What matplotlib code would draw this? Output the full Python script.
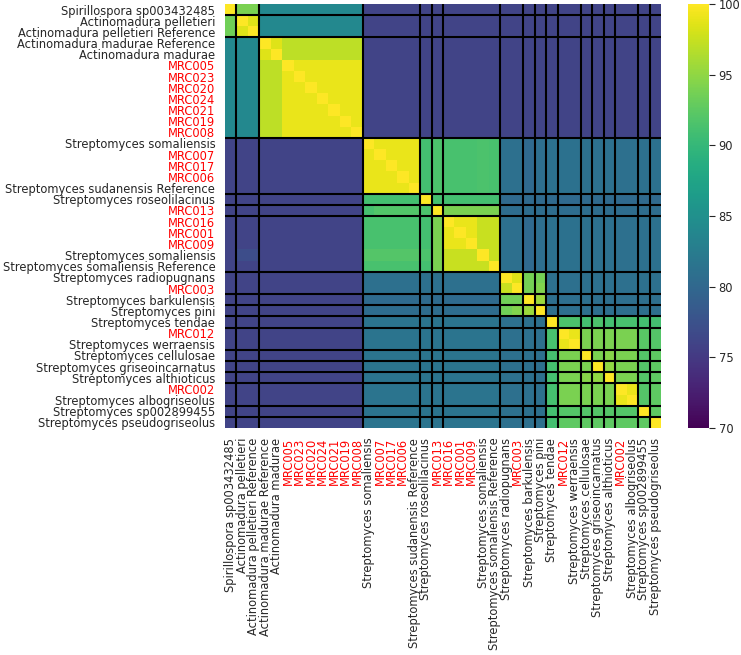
import numpy as np
import matplotlib
matplotlib.use("Agg")
import matplotlib.pyplot as plt

labels = [
    "Spirillospora sp003432485", "Actinomadura pelletieri", "Actinomadura pelletieri Reference",
    "Actinomadura madurae Reference", "Actinomadura madurae",
    "MRC005", "MRC023", "MRC020", "MRC024", "MRC021", "MRC019", "MRC008",
    "Streptomyces somaliensis", "MRC007", "MRC017", "MRC006", "Streptomyces sudanensis Reference",
    "Streptomyces roseolilacinus", "MRC013", "MRC016", "MRC001", "MRC009",
    "Streptomyces somaliensis", "Streptomyces somaliensis Reference",
    "Streptomyces radiopugnans", "MRC003", "Streptomyces barkulensis", "Streptomyces pini",
    "Streptomyces tendae", "MRC012", "Streptomyces werraensis", "Streptomyces cellulosae",
    "Streptomyces griseoincarnatus", "Streptomyces althioticus", "MRC002",
    "Streptomyces albogriseolus", "Streptomyces sp002899455", "Streptomyces pseudogriseolus",
]

# group boundaries (black separator lines), index after which a line is drawn
group_breaks = [1, 3, 12, 17, 18, 19, 24, 26, 27, 28, 29, 31, 32, 33, 34, 36, 37]

A = 76.0    # Actinomadura vs Streptomyces
T = 84.0    # within Actinomadura, between clades
SR = [81.0, 81.0, 80.3, 80.8, 81.2, 81.2, 81.2, 81.0, 81.0, 81.0, 81.0, 81.0, 81.0, 81.2]

ani = [
    [100, 94, 94] + [T] * 9 + [A] * 26,
    [93.5, 100, 98.5] + [T] * 9 + [A] * 26,
    [93.5, 98.5, 100] + [T] * 9 + [A] * 26,
    [T] * 3 + [100, 98.5] + [97] * 7 + [A] * 26,
    [T] * 3 + [98.5, 100] + [97] * 7 + [A] * 26,
    [T] * 3 + [97, 97] + [100, 99, 99, 99, 99, 99, 99] + [A] * 26,
    [T] * 3 + [97, 97] + [99, 100, 99, 99, 99, 99, 99] + [A] * 26,
    [T] * 3 + [97, 97] + [99, 99, 100, 99, 99, 99, 99] + [A] * 26,
    [T] * 3 + [97, 97] + [99, 99, 99, 100, 99, 99, 99] + [A] * 26,
    [T] * 3 + [97, 97] + [99, 99, 99, 99, 100, 99, 99] + [A] * 26,
    [T] * 3 + [97, 97] + [99, 99, 99, 99, 99, 100, 99] + [A] * 26,
    [T] * 3 + [97, 97] + [99, 99, 99, 99, 99, 99, 100] + [A] * 26,
    [A] * 12 + [100, 99, 99, 99, 99] + [91, 91.5] + [91.3, 91.3, 91.3, 91.5, 91.3] + SR,
    [A] * 12 + [99, 100, 99, 99, 99] + [91, 91.5] + [91.3, 91.3, 91.3, 91.5, 91.3] + SR,
    [A] * 12 + [99, 99, 100, 99, 99] + [91, 91.5] + [91.3, 91.3, 91.3, 91.5, 91.3] + SR,
    [A] * 12 + [99, 99, 99, 100, 99] + [91, 91.5] + [91.3, 91.3, 91.3, 91.5, 91.3] + SR,
    [A] * 12 + [99, 99, 99, 99, 100] + [91, 91.5] + [91.3, 91.3, 91.3, 91.5, 91.3] + SR,
    [A] * 12 + [91] * 5 + [100, 91] + [91] * 5 + [80.2] * 14,
    [A] * 12 + [91.2, 91.8, 91.8, 91.8, 91.8] + [91.5, 100] + [94] * 5 + [80.6] * 14,
    [A] * 12 + [91.3] * 5 + [91, 94] + [100, 99, 99, 97.5, 97.5] + SR,
    [A] * 12 + [91.3] * 5 + [91, 94] + [99, 100, 99, 97.5, 97.5] + SR,
    [A] * 12 + [91.3] * 5 + [91, 94] + [99, 99, 100, 97.5, 97.5] + SR,
    [76, 77, 77] + [A] * 9 + [92] * 5 + [91.5, 94] + [97.5, 97.5, 97.5, 100, 97.5] + SR,
    [A] * 12 + [91.3] * 5 + [91, 94] + [97.5, 97.5, 97.5, 97.5, 100] + SR,
    [A] * 12 + [80.9] * 12 + [100, 98.5, 93.7, 93.7] + [81.0] * 10,
    [A] * 12 + [80.9] * 12 + [97.5, 100, 93.7, 94.3] + [81.0] * 10,
    [A] * 12 + [80.4] * 12 + [93.5, 93.5, 100, 95.5] + [80.8] * 10,
    [A] * 12 + [80.6] * 12 + [93.5, 94.3, 95.5, 100] + [80.8] * 10,
    [A] * 12 + [81.5] * 12 + [81.0] * 4 + [100, 91.5, 91.5, 91, 91.5, 91, 91.3, 91.3, 91, 91],
    [A] * 12 + [81.5] * 12 + [81.0] * 4 + [91.3, 100, 99, 94, 94, 94, 94, 94, 92.2, 92],
    [A] * 12 + [81.5] * 12 + [81.0] * 4 + [91.3, 99, 100, 94, 94, 94, 94, 94, 92.2, 92],
    [A] * 12 + [81.5] * 12 + [81.0] * 4 + [91.2, 94, 94, 100, 94, 94.5, 94, 94, 92, 92.5],
    [A] * 12 + [81.5] * 12 + [81.0] * 4 + [91.2, 94, 94, 94, 100, 95, 94, 94, 92, 92.5],
    [A] * 12 + [81.5] * 12 + [81.0] * 4 + [91.2, 94, 94, 94.5, 95, 100, 94, 94, 92, 92.5],
    [A] * 12 + [81.5] * 12 + [81.0] * 4 + [91.2, 94, 94, 94, 94, 94, 100, 99, 92, 92.5],
    [A] * 12 + [81.5] * 12 + [81.0] * 4 + [91.2, 94, 94, 94, 94, 94, 99, 100, 92, 92.5],
    [A] * 12 + [81.5] * 12 + [81.0] * 4 + [91, 92, 92, 92, 92, 92, 92, 92, 100, 92.5],
    [A] * 12 + [81.5] * 12 + [81.0] * 4 + [91, 92.5, 92.5, 92.5, 92.5, 92.5, 92.5, 92.5, 92.5, 100],
]
Z = np.array(ani, dtype=float)

cbar_ticks = [70, 75, 80, 85, 90, 95, 100]

W, H = 741, 655
fig = plt.figure(figsize=(W / 100, H / 100), dpi=100)
hx0, hx1, hy0, hy1 = 225, 661, 4, 428
ax = fig.add_axes([hx0 / W, 1 - hy1 / H, (hx1 - hx0) / W, (hy1 - hy0) / H])
n = len(labels)
mesh = ax.pcolormesh(np.arange(n + 1), np.arange(n + 1), Z, cmap="viridis",
                     vmin=70, vmax=100, shading="flat")
ax.set_xlim(0, n)
ax.set_ylim(n, 0)
for b in group_breaks:
    ax.axhline(b, color="black", lw=1.5)
    ax.axvline(b, color="black", lw=1.5)
for s in ax.spines.values():
    s.set_visible(False)

txt = "#262626"
ax.set_xticks(np.arange(n) + 0.5)
ax.set_yticks(np.arange(n) + 0.5)
ax.set_xticklabels(labels, rotation=90, fontsize=8.3)
ax.set_yticklabels(labels, fontsize=8.3)
ax.tick_params(length=0, pad=7)
for t in ax.get_xticklabels() + ax.get_yticklabels():
    t.set_color("red" if t.get_text().startswith("MRC") else txt)

cax = fig.add_axes([688 / W, 1 - 428 / H, 21 / W, 424 / H])
cb = fig.colorbar(mesh, cax=cax, ticks=cbar_ticks)
cb.outline.set_visible(False)
cax.tick_params(length=4, width=0.8, pad=3, labelsize=8.3, colors=txt)

fig.savefig("out.png", dpi=100)
